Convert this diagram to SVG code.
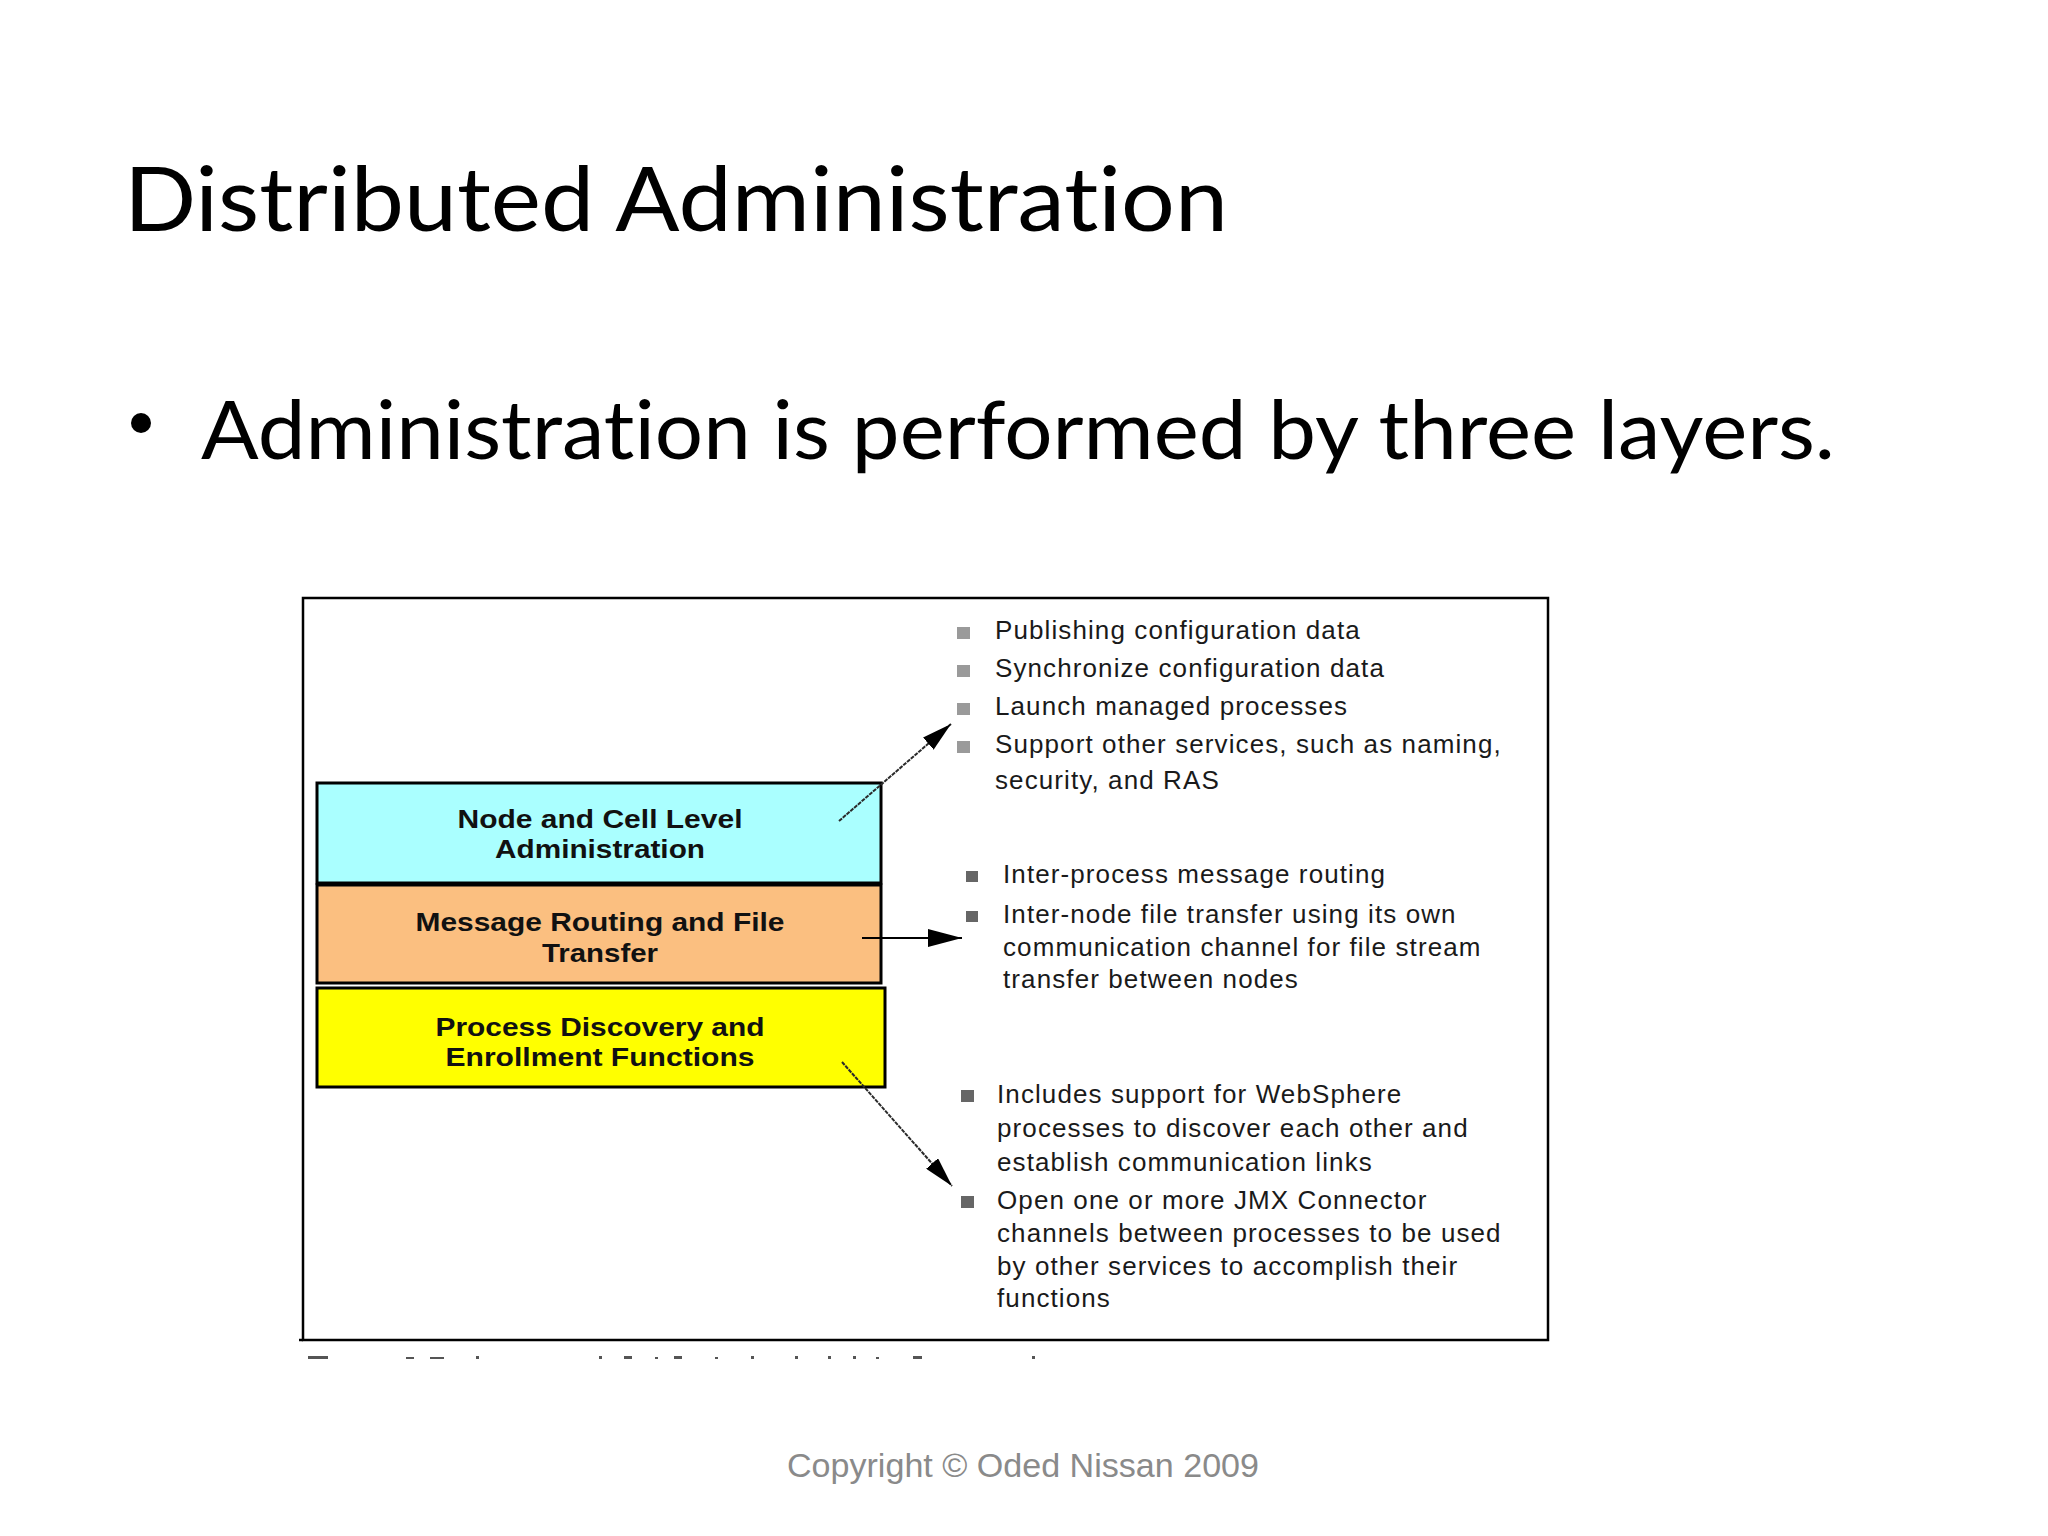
<svg xmlns="http://www.w3.org/2000/svg" width="2048" height="1536" viewBox="0 0 2048 1536">
<defs>
<style>
.slide{font-family:Lato,"Open Sans","Liberation Sans",sans-serif;fill:#000;font-variant-ligatures:none}
.box{stroke:#000;stroke-width:3}
.bt{font-family:"Liberation Sans",Arial,sans-serif;font-size:26px;font-weight:bold;fill:#111;text-anchor:middle}
.rt{font-family:"Liberation Sans",Arial,sans-serif;font-size:26px;fill:#1a1a1a;letter-spacing:1.1px}
.b1{fill:#9a9a9a}
.b2{fill:#666}
.dotted{stroke:#2a2a2a;stroke-width:2;stroke-dasharray:4 1;fill:none}
.solid{stroke:#000;stroke-width:2;fill:none}
.frag{fill:#555}
</style>
<marker id="ah" viewBox="0 0 30 16" refX="30" refY="8" markerWidth="30" markerHeight="16" markerUnits="userSpaceOnUse" orient="auto">
<path d="M0,0 L30,8 L0,16 z" fill="#000"/>
</marker>
<marker id="ah2" viewBox="0 0 34 18" refX="34" refY="9" markerWidth="34" markerHeight="18" markerUnits="userSpaceOnUse" orient="auto">
<path d="M0,0 L34,9 L0,18 z" fill="#000"/>
</marker>
</defs>
<rect width="2048" height="1536" fill="#fff"/>

<g id="title">
<text class="slide" x="124" y="231" font-size="90" textLength="1104" lengthAdjust="spacingAndGlyphs">Distributed Administration</text>
</g>
<g id="bullet">
<circle cx="141" cy="423" r="10" fill="#000"/>
<text class="slide" x="201" y="459" font-size="82" textLength="1634" lengthAdjust="spacingAndGlyphs">Administration is performed by three layers.</text>
</g>

<g id="frame">
<rect x="303" y="598" width="1245" height="742" fill="#fff" stroke="#000" stroke-width="2.5"/>
<line x1="299" y1="1340" x2="303" y2="1340" stroke="#000" stroke-width="2.5"/>
</g>

<g id="node-cell">
<rect class="box" x="317" y="783" width="564" height="100" fill="#aaffff"/>
<text class="bt" x="600" y="828" textLength="285" lengthAdjust="spacingAndGlyphs">Node and Cell Level</text>
<text class="bt" x="600" y="858" textLength="210" lengthAdjust="spacingAndGlyphs">Administration</text>
</g>
<g id="message-routing">
<rect class="box" x="317" y="885" width="564" height="98" fill="#fbbf80"/>
<text class="bt" x="600" y="931" textLength="369" lengthAdjust="spacingAndGlyphs">Message Routing and File</text>
<text class="bt" x="600" y="962" textLength="116" lengthAdjust="spacingAndGlyphs">Transfer</text>
</g>
<g id="process-discovery">
<rect class="box" x="317" y="988" width="568" height="99" fill="#ffff00"/>
<text class="bt" x="600" y="1036" textLength="329" lengthAdjust="spacingAndGlyphs">Process Discovery and</text>
<text class="bt" x="600" y="1066" textLength="309" lengthAdjust="spacingAndGlyphs">Enrollment Functions</text>
</g>

<g id="list-admin">
<rect class="b1" x="957" y="627" width="13" height="12"/>
<rect class="b1" x="957" y="665" width="13" height="12"/>
<rect class="b1" x="957" y="703" width="13" height="12"/>
<rect class="b1" x="957" y="741" width="13" height="12"/>
<text class="rt" x="995" y="639">Publishing configuration data</text>
<text class="rt" x="995" y="677">Synchronize configuration data</text>
<text class="rt" x="995" y="715">Launch managed processes</text>
<text class="rt" x="995" y="753">Support other services, such as naming,</text>
<text class="rt" x="995" y="789">security, and RAS</text>
</g>

<g id="list-routing">
<rect class="b2" x="966" y="871" width="12" height="11"/>
<rect class="b2" x="966" y="911" width="12" height="11"/>
<text class="rt" x="1003" y="883">Inter-process message routing</text>
<text class="rt" x="1003" y="923">Inter-node file transfer using its own</text>
<text class="rt" x="1003" y="956">communication channel for file stream</text>
<text class="rt" x="1003" y="988">transfer between nodes</text>
</g>

<g id="list-discovery">
<rect class="b2" x="961" y="1090" width="13" height="12"/>
<rect class="b2" x="961" y="1196" width="13" height="12"/>
<text class="rt" x="997" y="1103">Includes support for WebSphere</text>
<text class="rt" x="997" y="1137">processes to discover each other and</text>
<text class="rt" x="997" y="1171">establish communication links</text>
<text class="rt" x="997" y="1209">Open one or more JMX Connector</text>
<text class="rt" x="997" y="1242">channels between processes to be used</text>
<text class="rt" x="997" y="1275">by other services to accomplish their</text>
<text class="rt" x="997" y="1307">functions</text>
</g>

<g id="connectors">
<line class="dotted" x1="839" y1="821" x2="951" y2="724" marker-end="url(#ah)"/>
<line class="solid" x1="862" y1="938" x2="962" y2="938" marker-end="url(#ah2)"/>
<line class="dotted" x1="842" y1="1062" x2="952" y2="1186" marker-end="url(#ah)"/>
</g>

<g id="caption-fragments">
<rect class="frag" x="308" y="1356" width="20" height="3"/>
<rect class="frag" x="406" y="1357" width="8" height="2"/>
<rect class="frag" x="430" y="1357" width="14" height="2"/>
<rect class="frag" x="476" y="1356" width="3" height="3"/>
<rect class="frag" x="599" y="1356" width="3" height="3"/>
<rect class="frag" x="624" y="1356" width="8" height="3"/>
<rect class="frag" x="655" y="1357" width="3" height="2"/>
<rect class="frag" x="674" y="1356" width="8" height="3"/>
<rect class="frag" x="715" y="1357" width="3" height="2"/>
<rect class="frag" x="751" y="1356" width="3" height="3"/>
<rect class="frag" x="795" y="1356" width="3" height="3"/>
<rect class="frag" x="828" y="1356" width="3" height="3"/>
<rect class="frag" x="853" y="1356" width="3" height="3"/>
<rect class="frag" x="876" y="1357" width="3" height="2"/>
<rect class="frag" x="913" y="1356" width="9" height="3"/>
<rect class="frag" x="1032" y="1356" width="3" height="3"/>
</g>

<g id="footer">
<text x="787" y="1477" font-family="'Liberation Sans',Arial,sans-serif" font-size="34" fill="#8a8a8a" textLength="472" lengthAdjust="spacingAndGlyphs">Copyright © Oded Nissan 2009</text>
</g>
</svg>
